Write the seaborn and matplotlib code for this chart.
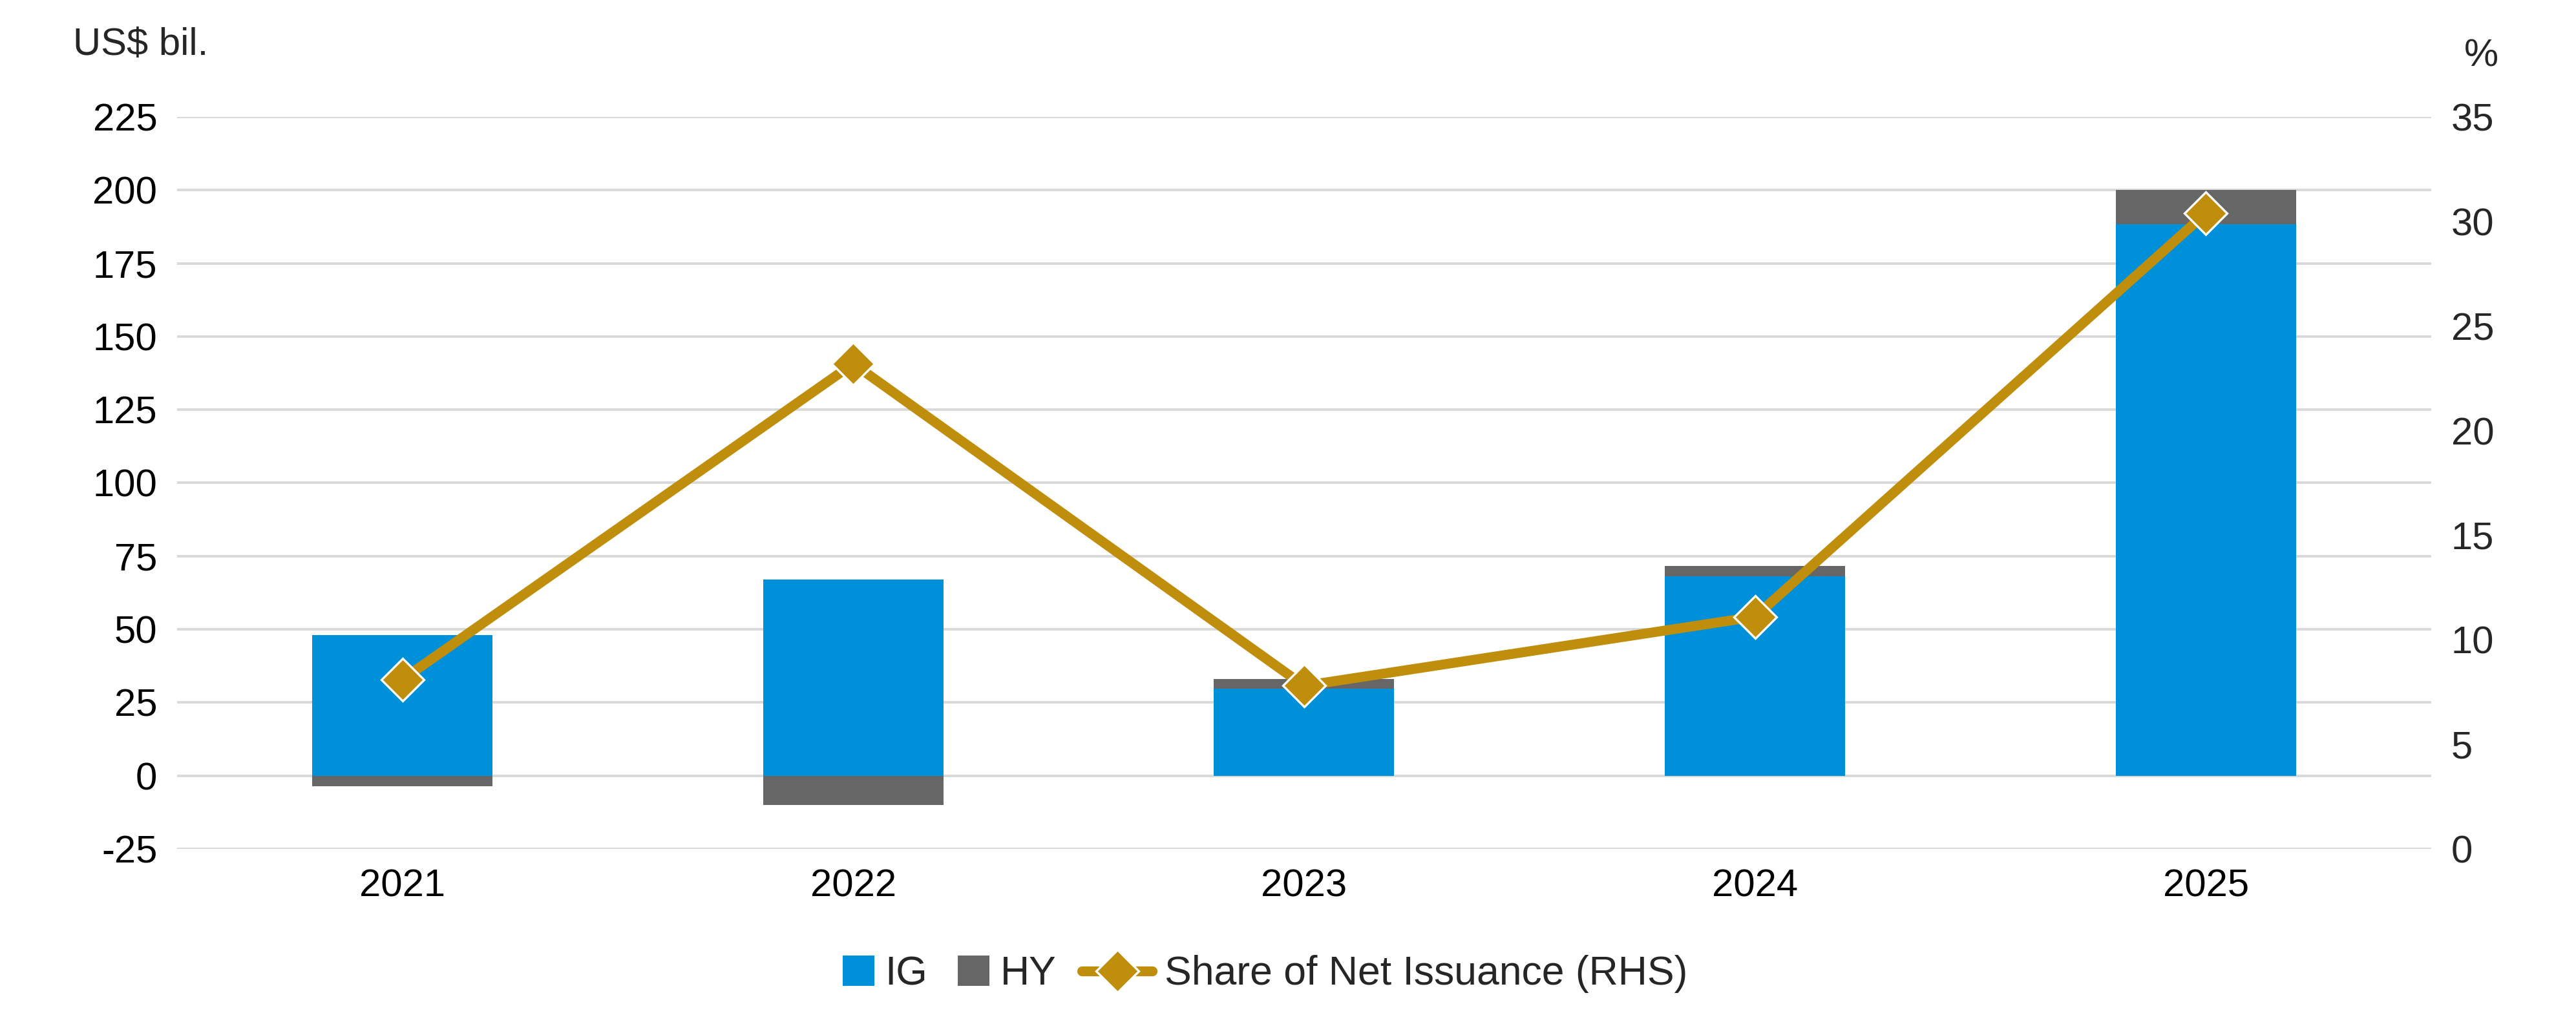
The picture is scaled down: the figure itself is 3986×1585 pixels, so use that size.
import numpy as np
import pandas as pd
import matplotlib
matplotlib.use("Agg")
import matplotlib.pyplot as plt
import matplotlib.patches as mpatches
from matplotlib.lines import Line2D
import seaborn as sns

# data
years = ["2021", "2022", "2023", "2024", "2025"]
ig = [48.0, 67.0, 29.8, 68.2, 188.4]
hy = [-3.5, -10.1, 3.3, 3.5, 11.6]
share = [8.1, 23.2, 7.8, 11.1, 30.4]

left_ticks = [-25, 0, 25, 50, 75, 100, 125, 150, 175, 200, 225]
right_ticks = [0, 5, 10, 15, 20, 25, 30, 35]

BLUE = "#0090D9"
GREY = "#666666"
GOLD = "#BF8E0C"
GRID = "#D9D9D9"

sns.set_style("white")
plt.rcParams["font.family"] = ["Liberation Sans", "DejaVu Sans"]
plt.rcParams["axes.unicode_minus"] = False

fig = plt.figure(figsize=(19.93, 7.925), dpi=200)
ax = fig.add_axes([0.0687, 0.171, 0.8751, 0.7148])

# HY sits on top of IG when positive, below zero when negative
hy_bottom = [i if h > 0 else 0 for i, h in zip(ig, hy)]

sns.barplot(x=years, y=ig, ax=ax, color=BLUE, saturation=1, width=0.4, linewidth=0)
sns.barplot(x=years, y=hy, ax=ax, color=GREY, saturation=1, width=0.4, linewidth=0,
            bottom=hy_bottom)

ax.set_ylim(-25, 225)
ax.set_yticks(left_ticks)
ax.set_xlim(-0.5, 4.5)
ax.yaxis.grid(True, color=GRID, linewidth=1.4)
ax.xaxis.grid(False)
ax.set_axisbelow(True)
for s in ax.spines.values():
    s.set_visible(False)
ax.tick_params(axis="both", length=0, labelsize=21.5, colors="black")
ax.tick_params(axis="y", pad=11)
ax.tick_params(axis="x", pad=11)
ax.set_xlabel("")
ax.set_ylabel("")

# share of net issuance on the right axis
ax2 = ax.twinx()
sns.pointplot(x=years, y=share, ax=ax2, color=GOLD, markers="D", linestyles="-",
              errorbar=None)
for ln in ax2.lines:
    ln.set_linewidth(5.5)
    ln.set_markersize(17)
    ln.set_markeredgecolor("white")
    ln.set_markeredgewidth(1.2)
    ln.set_markerfacecolor(GOLD)
ax2.set_ylim(0, 35)
ax2.set_yticks(right_ticks)
ax2.set_xlim(-0.5, 4.5)
ax2.grid(False)
for s in ax2.spines.values():
    s.set_visible(False)
ax2.tick_params(axis="y", length=0, labelsize=21.5, pad=11)
ax2.set_ylabel("")

fig.text(0.0284, 0.956, "US$ bil.", fontsize=21.5, ha="left", va="center")
fig.text(0.970, 0.945, "%", fontsize=21.5, ha="right", va="center")

# legend in two pieces so the squares and the line handle get their own widths
bar_handles = [
    mpatches.Patch(facecolor=BLUE, edgecolor="none", label="IG"),
    mpatches.Patch(facecolor=GREY, edgecolor="none", label="HY"),
]
line_handle = [Line2D([], [], color=GOLD, linewidth=5.5, marker="D", markersize=17,
                      markeredgecolor="white", markeredgewidth=1.2,
                      label="Share of Net Issuance (RHS)")]
fig.legend(handles=bar_handles, loc="center left", bbox_to_anchor=(0.3271, 0.0486), ncol=2,
           frameon=False, fontsize=22.5, handlelength=0.78, handleheight=0.78,
           handletextpad=0.27, columnspacing=0.75, borderpad=0, borderaxespad=0)
fig.legend(handles=line_handle, loc="center left", bbox_to_anchor=(0.42, 0.0486),
           frameon=False, fontsize=22.5, handlelength=1.75, handletextpad=0.3,
           borderpad=0, borderaxespad=0)

fig.savefig("out.png", dpi=200)
